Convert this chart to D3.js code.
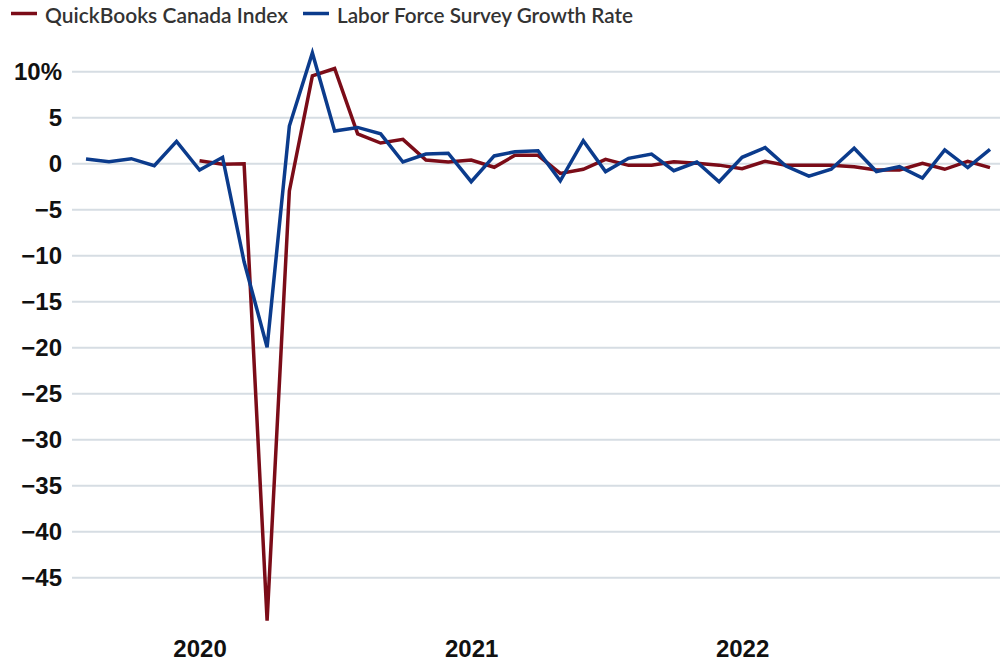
<!DOCTYPE html>
<html>
<head>
<meta charset="utf-8">
<script src="https://cdn.jsdelivr.net/npm/d3@7"></script>
<style>
  html, body { margin: 0; padding: 0; background: #ffffff; }
  svg { display: block; }
</style>
</head>
<body>
<svg id="chart" width="1000" height="661"></svg>
<script>
// Monthly growth rates (%), Aug 2019 – Dec 2022
const months = d3.timeMonths(new Date(2019, 7, 1), new Date(2023, 0, 1));

const lfsGrowth = [
  0.47, 0.17, 0.5, -0.26, 2.38,            // Aug–Dec 2019
  -0.73, 0.65, -10.7, -20.0, 4.05, 12.0,   // Jan–Jun 2020
  3.5, 3.9, 3.2, 0.14, 1.0, 1.1,           // Jul–Dec 2020
  -2.0, 0.8, 1.26, 1.37, -1.9, 2.46,       // Jan–Jun 2021
  -0.9, 0.54, 1.0, -0.8, 0.14, -2.0,       // Jul–Dec 2021
  0.65, 1.7, -0.3, -1.4, -0.65, 1.63,      // Jan–Jun 2022
  -0.9, -0.37, -1.6, 1.45, -0.47, 1.52     // Jul–Dec 2022
];

// QuickBooks index starts in Jan 2020
const qbStart = 5;
const qbIndex = [
  0.28, -0.1, -0.05, -49.7, -3.0, 9.5,     // Jan–Jun 2020
  10.3, 3.2, 2.2, 2.6, 0.36, 0.14,         // Jul–Dec 2020
  0.36, -0.43, 0.87, 0.87, -1.1, -0.65,    // Jan–Jun 2021
  0.43, -0.22, -0.22, 0.17, 0.0, -0.2,     // Jul–Dec 2021
  -0.58, 0.22, -0.22, -0.22, -0.22, -0.37, // Jan–Jun 2022
  -0.73, -0.73, 0.0, -0.65, 0.22, -0.47    // Jul–Dec 2022
];

const yTicks = [10, 5, 0, -5, -10, -15, -20, -25, -30, -35, -40, -45];
const yearTicks = [new Date(2020, 0, 1), new Date(2021, 0, 1), new Date(2022, 0, 1)];

const seriesInfo = [
  { name: "QuickBooks Canada Index", color: "#7b0c18" },
  { name: "Labor Force Survey Growth Rate", color: "#0b3b8c" }
];

const svg = d3.select("#chart");

const x = d3.scaleTime()
  .domain([months[0], months[months.length - 1]])
  .range([86, 990]);

const y = d3.scaleLinear()
  .domain([-50, 12])
  .range([623.3, 52.9]);

const labelFont = "'Liberation Sans', Arial, sans-serif";

// Gridlines with tick labels
const yAxis = d3.axisLeft(y)
  .tickValues(yTicks)
  .tickSize(-(1000 - 72))
  .tickPadding(10)
  .tickFormat(d => (d === 10 ? "10%" : (d < 0 ? "\u2212" + Math.abs(d) : String(d))));

const gy = svg.append("g")
  .attr("transform", "translate(72,0)")
  .call(yAxis);
gy.select(".domain").remove();
gy.selectAll(".tick line")
  .attr("stroke", "#d6dde3")
  .attr("stroke-width", 2);
gy.selectAll(".tick text")
  .attr("fill", "#111")
  .attr("font-family", labelFont)
  .attr("font-weight", "bold")
  .attr("font-size", 24)
  .attr("dy", "0.34em");

// Year labels
const xAxis = d3.axisBottom(x)
  .tickValues(yearTicks)
  .tickSize(0)
  .tickPadding(0)
  .tickFormat(d3.timeFormat("%Y"));

const gx = svg.append("g")
  .attr("transform", "translate(0,657)")
  .call(xAxis);
gx.select(".domain").remove();
gx.selectAll(".tick text")
  .attr("fill", "#111")
  .attr("font-family", labelFont)
  .attr("font-weight", "bold")
  .attr("font-size", 24)
  .attr("y", 0)
  .attr("dy", 0);

// Lines
const line = d3.line()
  .x(d => x(d.date))
  .y(d => y(d.value));

const qbData = qbIndex.map((v, i) => ({ date: months[qbStart + i], value: v }));
const lfsData = lfsGrowth.map((v, i) => ({ date: months[i], value: v }));

svg.append("path")
  .datum(qbData)
  .attr("fill", "none")
  .attr("stroke", seriesInfo[0].color)
  .attr("stroke-width", 3.5)
  .attr("stroke-linejoin", "miter")
  .attr("stroke-miterlimit", 4)
  .attr("d", line);

svg.append("path")
  .datum(lfsData)
  .attr("fill", "none")
  .attr("stroke", seriesInfo[1].color)
  .attr("stroke-width", 3.5)
  .attr("stroke-linejoin", "miter")
  .attr("stroke-miterlimit", 4)
  .attr("d", line);

// Legend
const legendPos = [{ lx: 11, tx: 45, w: 243 }, { lx: 303, tx: 337, w: 296 }];
const legend = svg.append("g");
seriesInfo.forEach((s, i) => {
  legend.append("line")
    .attr("x1", legendPos[i].lx).attr("x2", legendPos[i].lx + 26)
    .attr("y1", 13.5).attr("y2", 13.5)
    .attr("stroke", s.color)
    .attr("stroke-width", 3.5);
  legend.append("text")
    .attr("x", legendPos[i].tx)
    .attr("y", 22.5)
    .attr("fill", "#333")
    .attr("font-family", "Lato, 'Noto Sans', sans-serif")
    .attr("font-weight", 600)
    .attr("font-size", 20.5)
    .attr("textLength", legendPos[i].w)
    .attr("lengthAdjust", "spacingAndGlyphs")
    .text(s.name);
});
</script>
</body>
</html>
